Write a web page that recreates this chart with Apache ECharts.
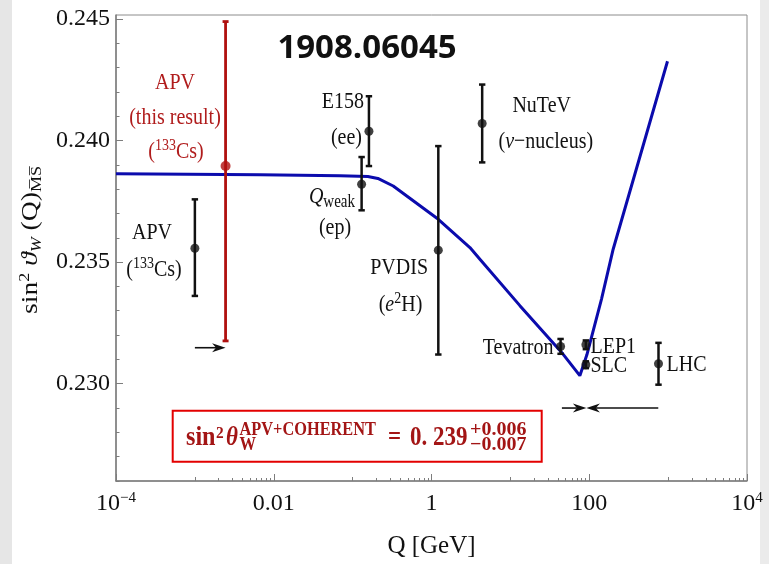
<!DOCTYPE html>
<html><head><meta charset="utf-8">
<script src="https://cdn.jsdelivr.net/npm/echarts@6/dist/echarts.min.js"></script>
<style>html,body{margin:0;padding:0;background:#fff}#c{width:769px;height:564px}</style>
</head><body><div id="c"></div>
<script>
// ---------- data ----------
const xTickLabels = [1e-4, 0.01, 1, 100, 1e4];
const xMidTicks = [1e-3, 0.1, 10, 1000];
const xMinorTicks = [0.002,0.003,0.004,0.005,0.006,0.007,0.008,0.009,
  0.2,0.3,0.4,0.5,0.6,0.7,0.8,0.9, 20,30,40,50,60,70,80,90,
  2000,3000,4000,5000,6000,7000,8000,9000];
const yMajorTicks = [0.230, 0.235, 0.240, 0.245];
const yMinorTicks = [0.226,0.227,0.228,0.229,0.231,0.232,0.233,0.234,0.236,0.237,0.238,0.239,0.241,0.242,0.243,0.244];

const expNames = ['APV (133Cs)','Qweak','E158','PVDIS','NuTeV','Tevatron','LEP1','SLC','LHC'];
const expQ   = [0.001, 0.130, 0.161, 1.22, 4.39, 43.3, 90.6, 90.6, 755];
const expVal = [0.23557, 0.2382, 0.24038, 0.23549, 0.2407, 0.23153, 0.2316, 0.23078, 0.23082];
const expHi  = [0.23758, 0.23932, 0.24182, 0.23977, 0.2423, 0.23184, 0.23178, 0.23092, 0.23168];
const expLo  = [0.23361, 0.23713, 0.23895, 0.2312, 0.2391, 0.23123, 0.23142, 0.23064, 0.22996];

const apvQ = [0.00245];
const apvVal = [0.23895];
const apvHi = [0.24489];
const apvLo = [0.23176];

const curveQ   = [1e-4, 0.00668, 0.069, 0.156, 0.209, 0.327, 1.22, 3.07, 4.11, 13.2, 46.2, 76.0, 93.3, 143, 201, 982];
const curveVal = [0.23863, 0.23859, 0.23855, 0.23852, 0.23844, 0.23813, 0.23676, 0.2356, 0.23512, 0.23321, 0.23123, 0.23033, 0.23119, 0.23348, 0.23553, 0.24326];

const arrowFromQ = [0.001, 45, 750];
const arrowToQ   = [0.00245, 92, 92];
const arrowVal   = [0.23148, 0.2290, 0.2290];

// ---------- chart ----------
const SERIF = 'Liberation Serif';
const chart = echarts.init(document.getElementById('c'), null, {renderer:'canvas'});

function errRender(color, cap, lw){
  return function(params, api){
    const x = api.value(0), lo = api.value(1), hi = api.value(2);
    const p1 = api.coord([x, lo]), p2 = api.coord([x, hi]);
    const st = {stroke: color, lineWidth: lw};
    return {type:'group', children:[
      {type:'line', shape:{x1:p1[0], y1:p1[1], x2:p2[0], y2:p2[1]}, style:st},
      {type:'line', shape:{x1:p1[0]-cap, y1:p1[1], x2:p1[0]+cap, y2:p1[1]}, style:st},
      {type:'line', shape:{x1:p2[0]-cap, y1:p2[1], x2:p2[0]+cap, y2:p2[1]}, style:st}
    ]};
  };
}
function arrowRender(params, api){
  const v = api.value(2);
  const p1 = api.coord([api.value(0), v]), p2 = api.coord([api.value(1), v]);
  let dx = p2[0]-p1[0], dy = p2[1]-p1[1];
  const len = Math.sqrt(dx*dx+dy*dy) || 1; dx/=len; dy/=len;
  const L = 13.5, W = 4.5, N = 9.5;
  const px = -dy, py = dx;
  const b1 = [p2[0]-dx*L+px*W, p2[1]-dy*L+py*W];
  const b2 = [p2[0]-dx*L-px*W, p2[1]-dy*L-py*W];
  const nt = [p2[0]-dx*N, p2[1]-dy*N];
  return {type:'group', children:[
    {type:'line', shape:{x1:p1[0], y1:p1[1], x2:nt[0], y2:nt[1]}, style:{stroke:'#111', lineWidth:1.6}},
    {type:'polygon', shape:{points:[p2, b1, nt, b2]}, style:{fill:'#111'}}
  ]};
}

const xFmt = function(v){
  const e = Math.round(Math.log10(v));
  if (e === -4) return '{b|10}{s|\u22124}';
  if (e === 4) return '{b|10}{s|4}';
  if (e === -2) return '0.01';
  if (e === 0) return '1';
  return '100';
};

const axisGrey = '#7d7d7d';
const baseX = {type:'log', logBase:10, min:1e-4, max:1e4, position:'bottom', splitLine:{show:false}, minorTick:{show:false}};
const baseY = {type:'value', min:0.226, max:0.24516, position:'left', splitLine:{show:false}, minorTick:{show:false}, scale:true};

const SY = 1.2;
function T(x, y, text, o){
  return {type:'text', x:x, y:y, scaleY:SY, silent:true, z:100, style:Object.assign({text:text, fontFamily:SERIF, fontSize:20, fill:'#111', align:'center', verticalAlign:'middle'}, o||{})};
}
const supRich = {
  n:{fontFamily:SERIF, fontSize:20, lineHeight:24},
  s:{fontFamily:SERIF, fontSize:14, lineHeight:14, verticalAlign:'top'},
  ni:{fontFamily:SERIF, fontSize:20, lineHeight:24, fontStyle:'italic'},
  sb:{fontFamily:SERIF, fontSize:15, lineHeight:15, verticalAlign:'bottom'}
};
function richColor(c){
  const r = {};
  for (const k in supRich){ r[k] = Object.assign({}, supRich[k], {fill:c}); }
  return r;
}
const RED = '#b01c1c';

// formula pieces in the red box (scaled vertically)
const FB = 447, FS = 1.2, FC = '#a31515';
function F(x, b, text, size, italic, sx){
  return {type:'text', x:x, y:(b-FB)/FS - 0.3375*size, scaleX: sx||1, silent:true,
    style:{text:text, fontFamily:SERIF, fontWeight:'bold', fontStyle: italic?'italic':'normal', fontSize:size, fill:FC, align:'left', verticalAlign:'middle'}};
}

const yTitleRich = {
  n:{fontFamily:SERIF, fontSize:23, lineHeight:27, fill:'#111'},
  it:{fontFamily:SERIF, fontSize:23, lineHeight:27, fontStyle:'italic', fill:'#111'},
  sp:{fontFamily:SERIF, fontSize:15, lineHeight:15, verticalAlign:'top', fill:'#111'},
  sbi:{fontFamily:SERIF, fontSize:15, lineHeight:15, verticalAlign:'bottom', fontStyle:'italic', fill:'#111'},
  sb:{fontFamily:SERIF, fontSize:15, lineHeight:15, verticalAlign:'bottom', fill:'#111'}
};

const option = {
  animation:false,
  backgroundColor:'#ffffff',
  grid:{left:116, right:22, top:15, bottom:81, show:true, borderColor:'#8c8c8c', borderWidth:1, backgroundColor:'transparent'},
  xAxis:[
    Object.assign({}, baseX, {
      axisLine:{show:true, lineStyle:{color:axisGrey, width:1.5}},
      axisTick:{show:true, inside:true, length:7, customValues:xTickLabels, lineStyle:{color:axisGrey, width:1}},
      axisLabel:{show:true, customValues:xTickLabels, formatter:xFmt, margin:10, color:'#111', fontFamily:SERIF, fontSize:24, lineHeight:26,
        rich:{b:{fontFamily:SERIF, fontSize:24, lineHeight:26, color:'#111'}, s:{fontFamily:SERIF, fontSize:15, lineHeight:14, verticalAlign:'top', color:'#111'}}},
      name:'Q [GeV]', nameLocation:'middle', nameGap:53, nameTextStyle:{fontFamily:SERIF, fontSize:25, color:'#111'}
    }),
    Object.assign({}, baseX, {
      axisLine:{show:false}, axisLabel:{show:false},
      axisTick:{show:true, inside:true, length:4, customValues:xMidTicks, lineStyle:{color:axisGrey, width:1}}
    }),
    Object.assign({}, baseX, {
      axisLine:{show:false}, axisLabel:{show:false},
      axisTick:{show:true, inside:true, length:3, customValues:xMinorTicks, lineStyle:{color:axisGrey, width:1}}
    })
  ],
  yAxis:[
    Object.assign({}, baseY, {
      axisLine:{show:true, lineStyle:{color:axisGrey, width:1.5}},
      axisTick:{show:true, inside:true, length:7, customValues:yMajorTicks, lineStyle:{color:axisGrey, width:1}},
      axisLabel:{show:true, customValues:yMajorTicks, formatter:function(v){return v.toFixed(3);}, margin:6, color:'#111', fontFamily:SERIF, fontSize:24}
    }),
    Object.assign({}, baseY, {
      axisLine:{show:false}, axisLabel:{show:false},
      axisTick:{show:true, inside:true, length:3.5, customValues:yMinorTicks, lineStyle:{color:axisGrey, width:1}}
    })
  ],
  series:[
    {type:'line', name:'running', data:curveQ.map((q,i)=>[q, curveVal[i]]), showSymbol:false, symbol:'none',
      lineStyle:{color:'#0b0bad', width:3}, z:2, silent:true},
    {type:'custom', name:'errors', renderItem:errRender('#111', 3.2, 2.5),
      data:expQ.map((q,i)=>[q, expLo[i], expHi[i]]), encode:{x:0, y:[1,2]}, z:3, silent:true},
    {type:'scatter', name:'central', data:expQ.map((q,i)=>[q, expVal[i]]), symbol:'circle', symbolSize:9,
      itemStyle:{color:'#111'}, z:4, silent:true},
    {type:'custom', name:'apvErr', renderItem:errRender('#b0100f', 3, 2.8),
      data:apvQ.map((q,i)=>[q, apvLo[i], apvHi[i]]), encode:{x:0, y:[1,2]}, z:5, silent:true},
    {type:'scatter', name:'apv', data:apvQ.map((q,i)=>[q, apvVal[i]]), symbol:'circle', symbolSize:10,
      itemStyle:{color:'#b0100f'}, z:6, silent:true},
    {type:'custom', name:'arrows', renderItem:arrowRender,
      data:arrowFromQ.map((q,i)=>[q, arrowToQ[i], arrowVal[i]]), encode:{x:[0,1], y:2}, z:5, silent:true}
  ],
  graphic:[
    {type:'rect', shape:{x:0, y:0, width:12, height:564}, style:{fill:'#e6e6e6'}, silent:true, z:-10},
    {type:'rect', shape:{x:760, y:0, width:9, height:564}, style:{fill:'#ebebeb'}, silent:true, z:-10},
    {type:'text', x:367, y:49, silent:true, z:100, style:{text:'1908.06045', fontFamily:'Open Sans', fontWeight:'bold', fontSize:33, fill:'#111', align:'center', verticalAlign:'middle'}},
    // red APV
    T(175, 83, 'APV', {fill:RED}),
    T(175, 118, '(this result)', {fill:RED}),
    T(176, 152, '{n|(}{s|133}{n|Cs)}', {rich:richColor(RED)}),
    // black labels
    T(152, 233, 'APV'),
    T(154, 270, '{n|(}{s|133}{n|Cs)}', {rich:richColor('#111')}),
    T(364, 102, 'E158', {align:'right'}),
    T(362, 138, '(ee)', {align:'right'}),
    T(355, 197, '{ni|Q}{sb|weak}', {align:'right', rich:richColor('#111')}),
    T(335, 228, '(ep)'),
    T(428, 268, 'PVDIS', {align:'right'}),
    T(400.5, 305, '{n|(}{ni|e}{s|2}{n|H)}', {rich:richColor('#111')}),
    T(541.7, 106, 'NuTeV'),
    T(545.8, 142, '{n|(}{ni|\u03bd}{n|\u2212nucleus)}', {rich:richColor('#111')}),
    T(553.5, 348, 'Tevatron', {align:'right'}),
    T(590.5, 347, 'LEP1', {align:'left'}),
    T(590.5, 366, 'SLC', {align:'left'}),
    T(666.5, 365, 'LHC', {align:'left'}),
    // y title
    {type:'text', x:31, y:240, rotation:Math.PI/2, scaleX:1.2, silent:true, z:100,
      style:{text:'{n|sin}{sp|2}{n| }{it|\u03d1}{sbi|W}{n| (Q)}{sb|M\u0305S\u0305}', rich:yTitleRich, align:'center', verticalAlign:'middle'}},
    // formula box
    {type:'rect', shape:{x:172.7, y:410.7, width:369, height:51}, style:{fill:'none', stroke:'#e30000', lineWidth:2}, silent:true, z:90},
    {type:'group', x:0, y:FB, scaleY:FS, silent:true, z:100, children:[
      F(186, 447, 'sin', 23, false, 1.05),
      F(216, 439, '2', 14, false, 1.1),
      F(226, 447, '\u03b8', 23, true),
      F(239.5, 436.5, 'APV+COHERENT', 15, false, 1.09),
      F(239.5, 451.5, 'W', 15, false, 1.1),
      F(388, 447, '=', 23),
      F(410, 447, '0. 239', 23),
      F(470, 437, '+0.006', 16, false, 1.25),
      F(470, 452, '\u22120.007', 16, false, 1.25)
    ]}
  ]
};
chart.setOption(option);
</script>
</body></html>
